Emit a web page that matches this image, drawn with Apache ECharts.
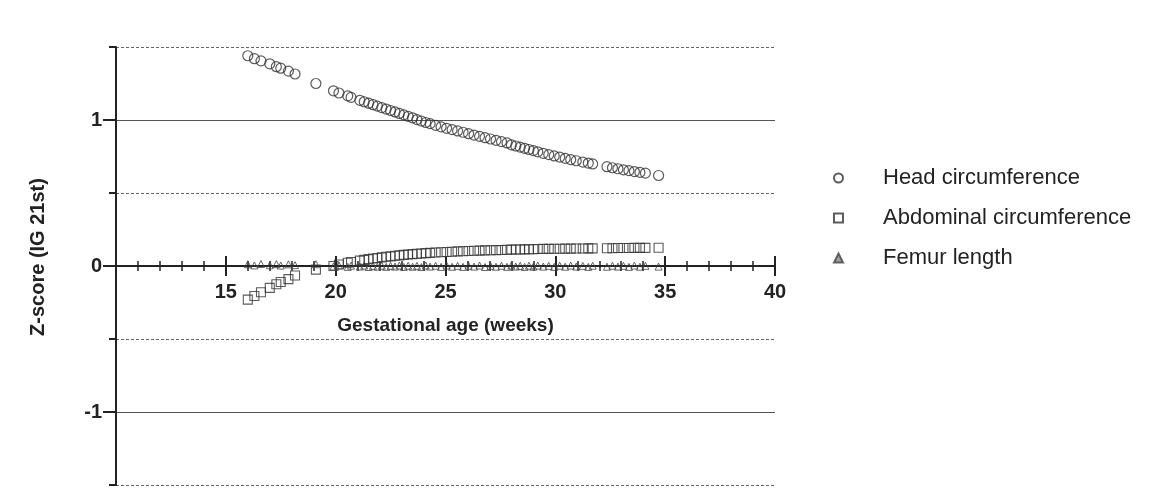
<!DOCTYPE html>
<html>
<head>
<meta charset="UTF-8">
<title>Z-score by gestational age</title>
<script src="https://cdn.jsdelivr.net/npm/echarts@6.0.0/dist/echarts.min.js"></script>
<style>body{margin:0;background:#fff;}</style>
</head>
<body>
	<div id="main" style="width:1149px;height:490px;"></div>
	<script type="text/javascript">
		// gestational age of each measurement (weeks)
		var weeks = [16.0,16.3,16.6,17.0,17.3,17.5,17.85,18.15,19.1,19.9,
			20.15,20.55,20.7,21.1,21.3,21.5,21.7,21.9,22.1,22.3,
			22.5,22.7,22.9,23.1,23.3,23.5,23.7,23.9,24.1,24.3,
			24.55,24.8,25.05,25.3,25.55,25.8,26.05,26.3,26.55,26.8,
			27.05,27.3,27.55,27.8,28.0,28.2,28.4,28.6,28.8,29.0,
			29.2,29.45,29.7,29.95,30.2,30.45,30.7,30.95,31.25,31.5,
			31.7,32.35,32.6,32.85,33.1,33.35,33.6,33.85,34.1,34.7];
		var headCirc = [1.44,1.42,1.405,1.385,1.365,1.355,1.335,1.315,1.25,1.2,
			1.185,1.165,1.155,1.135,1.125,1.115,1.105,1.095,1.085,1.075,
			1.065,1.055,1.045,1.035,1.025,1.015,1.003,0.993,0.983,0.975,
			0.963,0.953,0.943,0.934,0.925,0.916,0.906,0.897,0.888,0.879,
			0.87,0.861,0.852,0.843,0.83,0.822,0.814,0.806,0.798,0.79,
			0.782,0.772,0.763,0.754,0.746,0.737,0.729,0.721,0.712,0.705,
			0.699,0.68,0.673,0.666,0.659,0.653,0.647,0.641,0.636,0.62];
		var abdCirc = [-0.23,-0.205,-0.18,-0.15,-0.125,-0.11,-0.09,-0.065,-0.025,0.0,
			0.01,0.022,0.027,0.037,0.042,0.047,0.051,0.055,0.059,0.063,
			0.066,0.07,0.073,0.076,0.079,0.081,0.084,0.086,0.088,0.09,
			0.092,0.094,0.096,0.098,0.1,0.101,0.103,0.104,0.105,0.107,
			0.108,0.109,0.11,0.111,0.112,0.113,0.113,0.114,0.115,0.115,
			0.116,0.117,0.117,0.118,0.118,0.119,0.119,0.12,0.12,0.121,
			0.121,0.122,0.122,0.123,0.123,0.123,0.124,0.124,0.124,0.125];
		var femurLen = [0.012,0.004,0.014,0.005,0.013,0.003,0.011,0.006,0.012,-0.003,
			0.004,-0.006,0.002,-0.004,0.003,-0.007,0.001,-0.005,0.002,-0.006,
			0.001,-0.004,0.003,-0.006,0.002,-0.005,0.001,-0.007,0.003,-0.004,
			0.002,-0.006,0.003,-0.005,0.001,-0.006,0.002,-0.004,0.003,-0.007,
			0.001,-0.005,0.002,-0.006,0.003,-0.004,0.001,-0.006,0.002,-0.005,
			0.003,-0.004,0.001,-0.006,0.002,-0.005,0.003,-0.004,0.001,-0.006,
			0.002,-0.005,0.002,-0.004,0.001,-0.006,0.003,-0.005,0.001,-0.004];
		var xLabels = [15,20,25,30,35,40];
		var yLabels = [-1,0,1];

		function pairs(vals){
			var out = [];
			for (var i = 0; i < weeks.length; i++) out.push([weeks[i], vals[i]]);
			return out;
		}

		var ink = '#222';
		var bold = {fontFamily:'Liberation Sans', fontWeight:'bold', fontSize:20, color:ink};
		// grid is 438px tall, y = 0 sits half way, so the x axis is lifted by 219px
		var zeroLift = -219;

		var myChart = echarts.init(document.getElementById('main'));
		var option = {
			animation:false,
			backgroundColor:'#fff',
			grid:{left:116, right:374, top:47, bottom:5, containLabel:false, outerBoundsMode:'none'},
			legend:{
				orient:'vertical',
				left:828,
				top:162,
				itemWidth:9,
				itemHeight:9,
				itemGap:18,
				textStyle:{fontFamily:'Liberation Sans', fontSize:22, color:ink, padding:[0,0,0,35]},
				data:[
					{name:'Head circumference'},
					{name:'Abdominal circumference'},
					{name:'Femur length', itemStyle:{color:'#888'}}
				]
			},
			xAxis:[
				{
					type:'value', min:10, max:40, interval:5, position:'bottom', offset:zeroLift,
					name:'Gestational age (weeks)', nameLocation:'middle', nameGap:50, nameMoveOverlap:false,
					nameTextStyle:{fontFamily:'Liberation Sans', fontWeight:'bold', fontSize:19, color:ink},
					axisLine:{onZero:false, lineStyle:{color:ink, width:2}},
					axisTick:{length:10, lineStyle:{color:ink, width:2}},
					minorTick:{show:true, splitNumber:5, length:5, lineStyle:{color:ink, width:1.5}},
					axisLabel:Object.assign({customValues:xLabels, margin:16}, bold),
					splitLine:{show:false}
				},
				{
					// same scale again, ticks pointing up so they cross the axis
					type:'value', min:10, max:40, interval:5, position:'bottom', offset:zeroLift,
					axisLine:{show:false, onZero:false},
					axisTick:{inside:true, length:10, lineStyle:{color:ink, width:2}},
					minorTick:{show:true, splitNumber:5, length:5, lineStyle:{color:ink, width:1.5}},
					axisLabel:{show:false},
					splitLine:{show:false}
				}
			],
			yAxis:[
				{
					type:'value', min:-1.5, max:1.5, interval:0.5, position:'left',
					name:'Z-score (IG 21st)', nameLocation:'middle', nameGap:68, nameMoveOverlap:false,
					nameTextStyle:{fontFamily:'Liberation Sans', fontWeight:'bold', fontSize:20, color:ink, padding:[0,0,0,18]},
					axisLine:{show:true, onZero:false, lineStyle:{color:ink, width:2}},
					axisTick:{show:true, length:7, lineStyle:{color:ink, width:2}},
					axisLabel:Object.assign({customValues:yLabels, margin:14}, bold),
					splitLine:{show:true, lineStyle:{color:'#666', width:1, type:[3,2]}}
				},
				{
					// solid lines and long ticks at whole numbers
					type:'value', min:-1.5, max:1.5, position:'left',
					axisLine:{show:false, onZero:false},
					axisTick:{show:true, customValues:yLabels, length:13, lineStyle:{color:ink, width:2}},
					axisLabel:{show:false},
					splitLine:{show:true, lineStyle:{color:'#555', width:1.2, type:'solid'}}
				}
			],
			series:[
				{
					name:'Head circumference', type:'scatter', data:pairs(headCirc),
					symbol:'circle', symbolSize:10,
					itemStyle:{color:'rgba(0,0,0,0)', borderColor:'#333', borderWidth:1.2}
				},
				{
					name:'Abdominal circumference', type:'scatter', data:pairs(abdCirc),
					symbol:'rect', symbolSize:9,
					itemStyle:{color:'rgba(0,0,0,0)', borderColor:'#333', borderWidth:1.1}
				},
				{
					name:'Femur length', type:'scatter', data:pairs(femurLen),
					symbol:'triangle', symbolSize:7,
					itemStyle:{color:'rgba(0,0,0,0)', borderColor:'#444', borderWidth:1}
				}
			]
		};
		myChart.setOption(option);
	</script>
</body>
</html>
